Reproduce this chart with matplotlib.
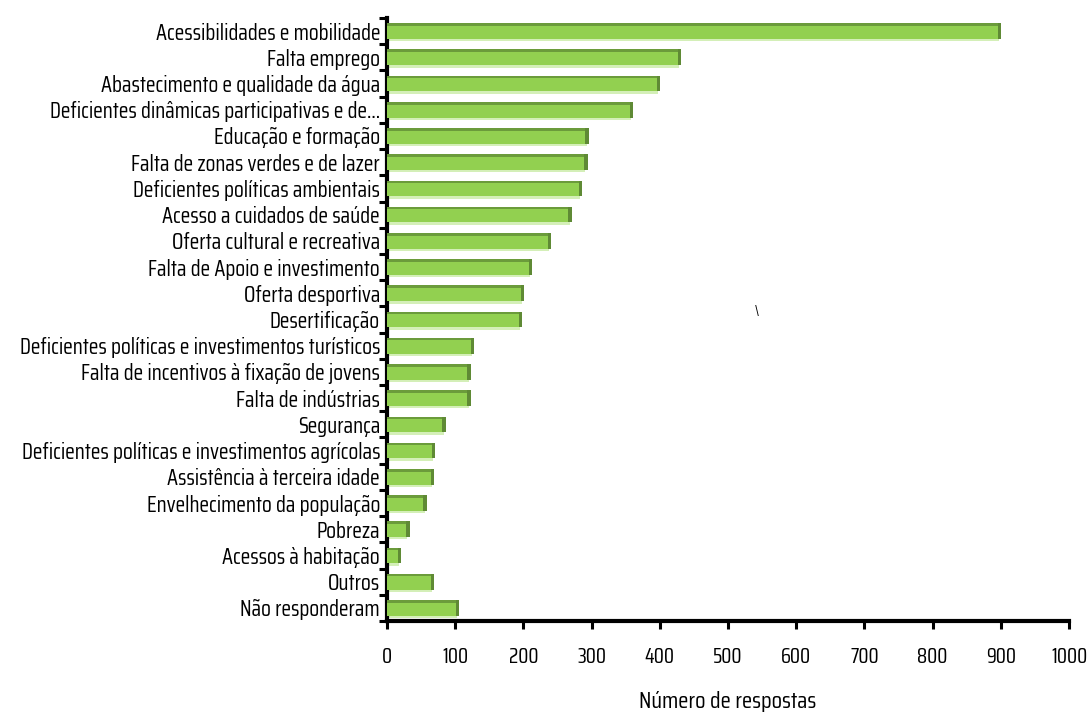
import numpy as np
import matplotlib
matplotlib.use("Agg")
from matplotlib import pyplot as plt

# categorias e respostas
categorias = [
    "Acessibilidades e mobilidade",
    "Falta emprego",
    "Abastecimento e qualidade da água",
    "Deficientes dinâmicas participativas e de...",
    "Educação e formação",
    "Falta de zonas verdes e de lazer",
    "Deficientes políticas ambientais",
    "Acesso a cuidados de saúde",
    "Oferta cultural e recreativa",
    "Falta de Apoio e investimento",
    "Oferta desportiva",
    "Desertificação",
    "Deficientes políticas e investimentos turísticos",
    "Falta de incentivos à fixação de jovens",
    "Falta de indústrias",
    "Segurança",
    "Deficientes políticas e investimentos agrícolas",
    "Assistência à terceira idade",
    "Envelhecimento da população",
    "Pobreza",
    "Acessos à habitação",
    "Outros",
    "Não responderam",
]
respostas = [900, 430, 400, 360, 295, 293, 285, 270, 240, 212, 200, 197,
             127, 122, 122, 85, 70, 68, 57, 32, 20, 68, 105]
x_ticks = [0, 100, 200, 300, 400, 500, 600, 700, 800, 900, 1000]

plt.rcParams["font.family"] = ["Saira Condensed", "Saira ExtraCondensed", "DejaVu Sans"]

fig = plt.figure(figsize=(10.87, 7.18), dpi=100)
ax = fig.add_axes([387 / 1087, 1 - 621 / 718, (1069 - 387) / 1087, (621 - 18) / 718])

y = np.arange(len(categorias))
vals = np.array(respostas, dtype=float)
h = 0.6

# barras com efeito 3D: reflexo inferior, face, borda superior escura e topo
ax.barh(y + h / 2 + 0.04, vals - 2, height=0.1, color="#d4efb8", zorder=2)
ax.barh(y, vals, height=h, color="#92d050", zorder=3)
ax.barh(y - h / 2 + 0.05, vals, height=0.1, color="#6b9b3b", zorder=4)
ax.barh(y, np.full(len(vals), 5.0), left=vals - 4, height=h, color="#5f8a35", zorder=5)

ax.set_xlim(0, 1000)
ax.set_ylim(len(categorias) - 0.5, -0.5)
ax.set_yticks(y)
ax.set_yticklabels(categorias, fontsize=16)
ax.set_yticks(np.arange(len(categorias) + 1) - 0.5, minor=True)
ax.tick_params(axis="y", which="major", length=0, pad=5)
ax.tick_params(axis="y", which="minor", length=6, width=2.2, direction="out")
ax.set_xticks(x_ticks)
ax.set_xticklabels([str(v) for v in x_ticks], fontsize=15)
ax.tick_params(axis="x", length=6, width=2.2, direction="out", pad=13)

for s in ["top", "right"]:
    ax.spines[s].set_visible(False)
ax.spines["left"].set_linewidth(3)
ax.spines["bottom"].set_linewidth(3)

ax.set_xlabel("Número de respostas", fontsize=17, labelpad=17)
fig.text(757 / 1087, 1 - 312 / 718, "\\", fontsize=10, ha="center", va="center")

fig.savefig("out.png", dpi=100, facecolor="white")
